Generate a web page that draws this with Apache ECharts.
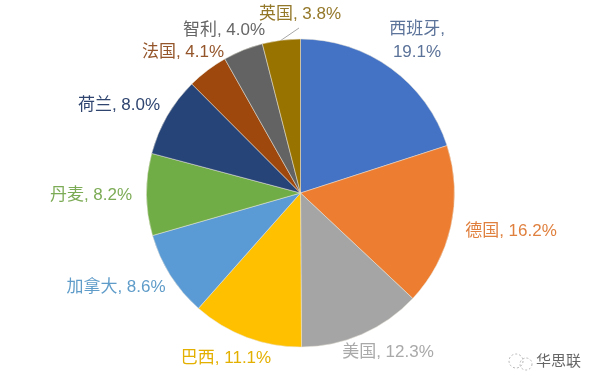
<!DOCTYPE html>
<html>
<head>
    <meta charset="utf-8">
    <title>Page Title</title>
    <style>html,body{margin:0;padding:0;background:#fff}</style>
</head>
<body>
<div id="main" style="width:600px;height:388px;"></div>
<script src="https://cdn.jsdelivr.net/npm/echarts@6/dist/echarts.min.js"></script>
<script>
var names = ['西班牙','德国','美国','巴西','加拿大','丹麦','荷兰','法国','智利','英国'];
var values = [19.1,16.2,12.3,11.1,8.6,8.2,8.0,4.1,4.0,3.8];
var colors = ['#4472c4','#ed7d31','#a5a5a5','#ffc000','#5b9bd5','#70ad47','#264478','#9e480e','#636363','#997300'];
var labelColors = ['#5b7299','#e0803f','#a9a9a9','#e3b000','#5f9cc9','#7cab55','#2f4570','#94552a','#666666','#94782a'];

// label centres, placed by hand like the original
var labelX = [417,511,388,226,116,91,119,183,224,300];
var labelY = [41,231,352,358,287,195,105,52,30,14];

var myChart = echarts.init(document.getElementById('main'));
var pieData = [];
for (var i = 0; i < names.length; i++) {
    pieData.push({
        name: names[i],
        value: values[i],
        itemStyle: {color: colors[i]},
        label: {color: labelColors[i]}
    });
}

myChart.setOption({
    animation: false,
    series: [{
        type: 'pie',
        center: [300.5, 193],
        radius: [0, 154],
        startAngle: 90,
        data: pieData,
        itemStyle: {borderColor: '#e8e4d8', borderWidth: 0.5},
        label: {
            position: 'outside',
            formatter: function (p) {
                var sep = p.dataIndex == 0 ? ',\n' : ', ';
                return p.name + sep + p.value.toFixed(1) + '%';
            },
            align: 'center',
            verticalAlign: 'middle',
            fontSize: 17,
            lineHeight: 23,
            overflow: 'none',
            fontFamily: '"Liberation Sans", "Noto Sans CJK SC", sans-serif'
        },
        labelLine: {show: false},
        labelLayout: function (p) {
            return {x: labelX[p.dataIndex], y: labelY[p.dataIndex], align: 'center', verticalAlign: 'middle'};
        }
    }],
    graphic: [{
        // leader line of the 英国 label
        type: 'line',
        shape: {x1: 280, y1: 41, x2: 299, y2: 28},
        style: {stroke: '#a6a6a6', lineWidth: 1}
    }, {
        type: 'circle',
        shape: {cx: 516, cy: 361, r: 7},
        style: {fill: 'none', stroke: '#b5b5b5', lineWidth: 1, lineDash: [2, 2]}
    }, {
        type: 'circle',
        shape: {cx: 526, cy: 364, r: 6},
        style: {fill: 'none', stroke: '#b5b5b5', lineWidth: 1, lineDash: [2, 2]}
    }, {
        type: 'text',
        left: 536,
        top: 353,
        style: {text: '华思联', fontSize: 15, fill: '#666', fontFamily: '"Noto Sans CJK SC", sans-serif'}
    }]
});
</script>
</body>
</html>
